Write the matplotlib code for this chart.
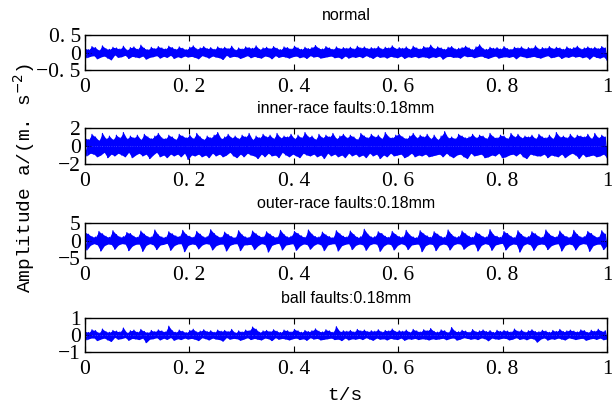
import numpy as np
import matplotlib
matplotlib.use("Agg")
import matplotlib.pyplot as plt

# panel titles and y-limits
titles = ["normal", "inner-race faults:0.18mm", "outer-race faults:0.18mm", "ball faults:0.18mm"]
ylims = [0.5, 2, 5, 1]
yticklabels = [["\u22120. 5", "0", "0. 5"], ["\u22122", "0", "2"], ["\u22125", "0", "5"], ["\u22121", "0", "1"]]
xticks = [0, 0.2, 0.4, 0.6, 0.8, 1]
xticklabels = ["0", "0. 2", "0. 4", "0. 6", "0. 8", "1"]

# signal samples
# normal and ball in 0.01 m/s^2, inner and outer in 0.1 m/s^2
normal = [12, -15, 8, -11, 17, -9, 14, -18, 6, -13, 19, -10, 11, -16, 9, -21, 15, -7, 13, -14,
          10, -12, 18, -8, 7, -17, 14, -11, 16, -13, 9, -15, 21, -10, 12, -19, 8, -14, 15, -12,
          11, -9, 17, -16, 13, -11, 10, -14, 18, -8, 14, -17, 9, -12, 16, -15, 12, -10, 8, -13,
          15, -11, 19, -14, 10, -18, 13, -9, 17, -12, 11, -16, 14, -10, 9, -13, 16, -15, 12, -20,
          15, -8, 11, -14, 18, -11, 7, -12, 13, -17, 10, -13, 16, -9, 14, -15, 12, -11, 19, -14,
          9, -16, 13, -10, 15, -12, 11, -18, 17, -9, 12, -14, 8, -11, 16, -13, 14, -16, 10, -12,
          18, -10, 13, -15, 9, -12, 15, -17, 11, -9, 14, -13, 20, -11, 12, -16, 10, -14, 17, -12,
          13, -10, 9, -15, 16, -13, 11, -18, 14, -10, 12, -16, 15, -12, 10, -14, 18, -11, 13, -15,
          16, -9, 11, -13, 14, -17, 12, -10, 17, -14, 10, -12, 15, -16, 13, -11, 19, -13, 11, -15,
          14, -10, 12, -17, 16, -12, 9, -14, 18, -11, 13, -15, 10, -12, 17, -13, 14, -16, 21, -12,
          11, -14, 16, -10, 13, -19, 9, -12, 15, -11, 17, -14, 10, -13, 12, -16, 14, -9, 18, -12,
          13, -11, 8, -15, 16, -12, 22, -10, 11, -14, 9, -17, 15, -13, 12, -10, 14, -16, 10, -13,
          17, -12, 11, -14, 9, -11, 15, -18, 13, -10, 16, -12, 10, -15, 14, -13, 12, -11, 19, -14,
          10, -16, 14, -12, 12, -9, 17, -15, 11, -13, 15, -10, 13, -17, 9, -12, 16, -14, 11, -10,
          14, -13, 18, -11, 10, -15, 13, -12, 16, -19, 12, -10, 15, -14, 11, -16, 17, -12, 13, -22]

inner = [9, -11, 7, -8, 13, -9, 10, -12, 6, -10, 14, -7, 8, -13, 11, -9, 7, -11, 12, -8,
         9, -10, 15, -12, 8, -7, 11, -13, 9, -10, 12, -8, 7, -11, 13, -9, 10, -14, 8, -10,
         11, -7, 14, -12, 9, -10, 8, -13, 12, -9, 10, -11, 7, -9, 13, -12, 11, -8, 9, -15,
         12, -10, 8, -11, 14, -9, 10, -12, 7, -10, 11, -13, 9, -8, 12, -11, 15, -9, 8, -12,
         10, -10, 13, -7, 9, -11, 11, -13, 8, -9, 12, -12, 10, -8, 14, -10, 7, -11, 11, -14,
         9, -9, 13, -12, 10, -8, 12, -11, 8, -10, 14, -13, 9, -7, 11, -10, 10, -12, 13, -9,
         8, -11, 12, -13, 9, -8, 15, -10, 10, -11, 11, -9, 7, -12, 13, -10, 9, -14, 12, -8,
         10, -11, 14, -9, 8, -12, 11, -10, 13, -13, 9, -8, 12, -11, 10, -9, 7, -12, 14, -10,
         11, -13, 9, -8, 13, -11, 10, -9, 12, -14, 8, -10, 15, -12, 10, -8, 9, -11, 12, -10,
         13, -9, 10, -13, 8, -11, 11, -8, 14, -12, 9, -10, 12, -11, 10, -9, 13, -12, 8, -11,
         12, -10, 7, -9, 11, -12, 16, -8, 9, -11, 10, -13, 8, -10, 13, -9, 11, -12, 9, -14,
         10, -8, 13, -11, 9, -10, 12, -9, 11, -13, 8, -12, 14, -10, 10, -11, 9, -8, 12, -13,
         11, -12, 8, -10, 14, -9, 10, -11, 13, -8, 9, -12, 11, -14, 10, -9, 12, -10, 8, -11,
         13, -11, 10, -9, 9, -13, 12, -10, 8, -11, 15, -12, 10, -9, 11, -13, 9, -10, 13, -8,
         9, -10, 12, -14, 11, -9, 10, -12, 13, -11, 8, -10, 14, -12, 9, -11, 12, -9, 10, -13]

outer = [24, -27, 18, -14, 11, -9, 10, -12, 26, -30, 19, -15, 12, -10, 9, -11, 28, -25, 17, -13,
         10, -9, 11, -10, 23, -29, 20, -16, 12, -11, 9, -10, 27, -31, 18, -14, 11, -9, 10, -12,
         30, -26, 16, -13, 10, -11, 9, -8, 25, -28, 19, -15, 13, -10, 11, -9, 29, -32, 17, -14,
         12, -10, 9, -11, 26, -24, 18, -13, 10, -9, 11, -10, 31, -27, 20, -15, 12, -11, 9, -10,
         24, -30, 17, -14, 11, -10, 8, -9, 28, -29, 16, -13, 10, -12, 9, -11, 27, -26, 19, -15,
         12, -9, 10, -11, 25, -33, 18, -14, 11, -10, 9, -8, 29, -27, 17, -13, 10, -11, 12, -9,
         26, -28, 20, -16, 13, -10, 9, -11, 30, -25, 18, -14, 11, -9, 10, -12, 24, -29, 16, -13,
         11, -10, 8, -9, 28, -30, 19, -15, 12, -11, 10, -9, 27, -26, 17, -14, 9, -10, 11, -12,
         32, -28, 18, -13, 10, -9, 11, -10, 25, -31, 20, -16, 12, -10, 9, -11, 26, -27, 17, -14,
         11, -9, 10, -12, 29, -26, 16, -13, 10, -11, 8, -10, 28, -32, 19, -15, 13, -10, 9, -11,
         25, -29, 18, -14, 11, -10, 9, -12, 30, -27, 17, -13, 10, -9, 11, -10, 27, -25, 19, -16,
         12, -11, 9, -10, 24, -30, 18, -14, 11, -9, 10, -11, 31, -28, 16, -13, 12, -10, 9, -8,
         26, -27, 20, -15, 12, -10, 8, -11, 28, -33, 17, -14, 10, -9, 11, -12, 25, -28, 19, -13,
         11, -10, 9, -11, 30, -26, 18, -15, 12, -11, 10, -9, 27, -30, 16, -14, 11, -10, 9, -12,
         29, -27, 17, -13, 10, -9, 11, -10, 26, -31, 20, -15, 12, -11, 9, -10, 28, -26, 18, -14]

ball = [22, -28, 15, -19, 31, -17, 26, -33, 12, -24, 35, -18, 20, -29, 16, -38, 27, -14, 23, -25,
        18, -21, 41, -15, 13, -31, 25, -20, 29, -23, 16, -27, 33, -18, 21, -45, 14, -25, 27, -22,
        20, -16, 30, -29, 24, -19, 18, -26, 52, -15, 25, -31, 16, -22, 29, -27, 22, -18, 14, -24,
        27, -20, 34, -25, 18, -33, 23, -16, 31, -22, 20, -29, 25, -18, 16, -24, 29, -27, 22, -36,
        27, -15, 20, -25, 33, -20, 13, -22, 24, -31, 18, -24, 29, -16, 25, -27, 47, -20, 34, -25,
        16, -29, 24, -18, 27, -22, 20, -33, 31, -16, 22, -25, 15, -20, 29, -24, 25, -29, 18, -22,
        33, -18, 24, -27, 16, -22, 27, -31, 20, -16, 25, -24, 36, -20, 22, -29, 18, -25, 31, -22,
        24, -18, 16, -27, 49, -24, 20, -33, 25, -18, 22, -29, 27, -22, 18, -25, 33, -20, 24, -27,
        29, -16, 20, -24, 25, -31, 22, -18, 31, -25, 18, -22, 27, -29, 24, -20, 35, -24, 20, -27,
        25, -18, 22, -31, 29, -22, 16, -25, 33, -20, 24, -27, 18, -22, 31, -24, 25, -29, 38, -22,
        21, -26, 17, -23, 30, -19, 25, -28, 14, -21, 44, -17, 22, -30, 19, -24, 28, -16, 23, -20,
        16, -25, 32, -21, 19, -27, 24, -17, 30, -22, 20, -34, 26, -18, 15, -23, 28, -25, 21, -19,
        27, -20, 23, -29, 18, -24, 35, -16, 22, -26, 29, -21, 17, -28, 25, -19, 31, -23, 20, -42,
        19, -24, 28, -17, 23, -30, 16, -22, 27, -25, 21, -18, 33, -24, 20, -29, 24, -17, 29, -21,
        23, -27, 18, -22, 30, -19, 26, -31, 15, -24, 28, -20, 22, -26, 34, -18, 21, -28, 25, -23]

units = [0.01, 0.1, 0.1, 0.01]
signals = [normal, inner, outer, ball]

serif = ["Liberation Serif", "DejaVu Serif"]
mono = ["Liberation Mono", "DejaVu Sans Mono"]
sans = ["Liberation Sans", "DejaVu Sans"]

fig = plt.figure(figsize=(6.12, 4.12), dpi=100)
W, H = 612.0, 412.0
# axes boxes in pixels: (top, bottom)
boxes = [(35, 70), (128, 164), (223, 258), (318, 352)]
left, right = 85, 607

for sig, unit, title, lim, ylab, (top, bot) in zip(signals, units, titles, ylims, yticklabels, boxes):
    ax = fig.add_axes([left / W, 1 - bot / H, (right - left) / W, (bot - top) / H])
    y = np.asarray(sig) * unit
    t = np.linspace(0, 1, len(y))
    up = y > 0
    # dense record: the space between positive and negative peaks reads as solid
    ax.fill_between(t[up], y[up], 0, color="blue", linewidth=0)
    ax.fill_between(t[~up], y[~up], 0, color="blue", linewidth=0)
    ax.plot(t, y, color="blue", linewidth=0.8)
    ax.set_xlim(0, 1)
    ax.set_ylim(-lim, lim)
    ax.set_xticks(xticks)
    ax.set_xticklabels(xticklabels, fontfamily=serif, fontsize=15.5)
    ax.set_yticks([-lim, 0, lim])
    ax.set_yticklabels(ylab, fontfamily=serif, fontsize=15.5)
    ax.tick_params(direction="in", top=True, right=True, length=4, width=0.8)
    ax.tick_params(axis="x", pad=6)
    ax.tick_params(axis="y", pad=3)
    for s in ax.spines.values():
        s.set_linewidth(1.0)
    ax.set_title(title, fontfamily=sans, fontsize=11.5, pad=11)

fig.text(345 / W, 1 - 396 / H, "t/s", fontfamily=mono, fontsize=14, ha="center", va="center")
fig.text(24 / W, 1 - 178 / H, "Amplitude a/(m. s$^{-2}$)", fontfamily=mono, fontsize=14,
         rotation=90, ha="center", va="center")

fig.savefig("out.png", dpi=100)
